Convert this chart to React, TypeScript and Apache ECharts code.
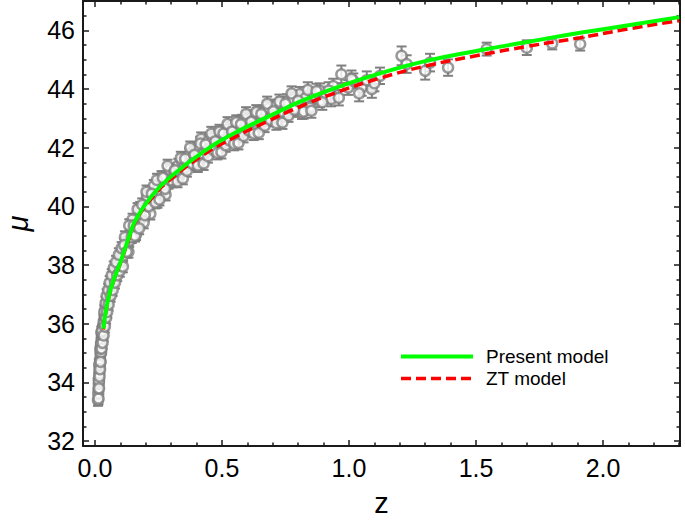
import React, { useEffect, useRef } from "react";
import * as echarts from "echarts";

// Observational data set A: z, mu, error
const obsZ: number[] = [
  0.012, 0.013, 0.014, 0.015, 0.015, 0.016, 0.017, 0.018, 0.019, 0.020,
  0.021, 0.022, 0.023, 0.024, 0.025, 0.026, 0.027, 0.028, 0.029, 0.030,
  0.031, 0.033, 0.035, 0.036, 0.038, 0.040, 0.041, 0.043, 0.045, 0.047,
  0.049, 0.051, 0.053, 0.055, 0.057, 0.059, 0.061, 0.063, 0.065, 0.067,
  0.069, 0.072, 0.075, 0.078, 0.081, 0.084, 0.087, 0.090, 0.093, 0.096,
  0.099, 0.103, 0.107, 0.111, 0.115, 0.119, 0.123, 0.127, 0.131, 0.135,
  0.140, 0.145, 0.150, 0.155, 0.160, 0.165, 0.170, 0.176, 0.182, 0.188,
  0.194, 0.200, 0.207, 0.214, 0.221, 0.228, 0.235, 0.242, 0.250, 0.258,
  0.266, 0.274, 0.282, 0.290, 0.298, 0.118, 0.132, 0.148, 0.162, 0.178,
  0.192, 0.205, 0.218, 0.232, 0.246, 0.262, 0.278, 0.295, 0.305, 0.312,
  0.320, 0.328, 0.335, 0.342, 0.350, 0.358, 0.365, 0.372, 0.380, 0.388,
  0.395, 0.402, 0.410, 0.418, 0.425, 0.432, 0.440, 0.448, 0.455, 0.462,
  0.470, 0.478, 0.486, 0.494, 0.502, 0.510, 0.518, 0.526, 0.535, 0.544,
  0.552, 0.560, 0.570, 0.580, 0.590, 0.600, 0.610, 0.620, 0.630, 0.640,
  0.650, 0.660, 0.672, 0.684, 0.696, 0.708, 0.720, 0.732, 0.744, 0.756,
  0.768, 0.780, 0.792, 0.807, 0.815, 0.830, 0.846, 0.860, 0.886, 0.886,
  0.910, 0.930, 0.938, 0.970, 0.997, 1.017, 1.050, 1.090, 1.122, 1.207,
  1.227, 1.300, 1.319, 1.390, 1.542, 1.700, 1.800, 1.910,
];
const obsMu: number[] = [
  33.40, 33.62, 33.78, 33.95, 34.12, 34.05, 34.30, 34.45, 34.60, 34.78,
  34.70, 34.98, 35.10, 35.02, 35.30, 35.40, 35.52, 35.48, 35.70, 35.62,
  35.85, 35.95, 36.10, 36.02, 36.30, 36.25, 36.45, 36.55, 36.50, 36.75,
  36.70, 36.92, 36.85, 37.05, 37.15, 37.02, 37.30, 37.22, 37.42, 37.38,
  37.55, 37.62, 37.50, 37.78, 37.85, 37.72, 37.98, 38.05, 37.95, 38.18,
  38.25, 38.15, 38.40, 38.32, 38.55, 38.48, 38.75, 38.62, 38.90, 38.82,
  39.05, 38.98, 39.22, 39.15, 39.40, 39.30, 39.58, 39.50, 39.75, 39.65,
  39.92, 39.82, 40.10, 40.00, 40.28, 40.18, 40.45, 40.32, 40.60, 40.48,
  40.75, 40.62, 40.90, 40.80, 41.05, 38.95, 38.45, 39.55, 39.05, 39.95,
  39.45, 40.35, 39.75, 40.70, 40.15, 41.00, 40.40, 41.25, 40.85, 41.20,
  41.05, 41.40, 41.15, 41.55, 41.30, 41.62, 41.45, 41.75, 41.50, 41.85,
  41.60, 41.95, 41.72, 42.30, 41.80, 42.10, 41.92, 42.25, 41.98, 42.35,
  42.05, 42.40, 42.12, 42.50, 42.20, 42.55, 42.30, 42.65, 42.38, 42.70,
  42.45, 42.85, 42.55, 42.90, 42.60, 42.98, 42.70, 43.05, 42.78, 43.15,
  42.85, 43.22, 42.95, 43.35, 43.05, 43.42, 43.15, 43.50, 43.20, 43.58,
  43.28, 43.65, 43.35, 43.83, 43.20, 43.70, 43.37, 43.78, 43.60, 43.94,
  43.75, 43.66, 44.10, 44.50, 44.05, 44.28, 44.05, 44.00, 44.45, 45.13,
  44.85, 44.62, 44.90, 44.73, 45.36, 45.41, 45.55, 45.53,
];
const obsErr: number[] = [
  0.20, 0.18, 0.20, 0.19, 0.20, 0.18, 0.20, 0.19, 0.20, 0.18,
  0.20, 0.19, 0.20, 0.18, 0.20, 0.19, 0.20, 0.18, 0.19, 0.20,
  0.18, 0.19, 0.20, 0.18, 0.19, 0.20, 0.18, 0.19, 0.20, 0.18,
  0.19, 0.20, 0.18, 0.19, 0.20, 0.18, 0.19, 0.20, 0.18, 0.19,
  0.20, 0.18, 0.19, 0.20, 0.18, 0.19, 0.20, 0.18, 0.19, 0.20,
  0.18, 0.18, 0.19, 0.20, 0.18, 0.19, 0.20, 0.18, 0.19, 0.20,
  0.18, 0.19, 0.20, 0.18, 0.19, 0.20, 0.18, 0.19, 0.20, 0.18,
  0.19, 0.20, 0.18, 0.19, 0.20, 0.18, 0.19, 0.20, 0.18, 0.19,
  0.20, 0.18, 0.19, 0.20, 0.18, 0.20, 0.20, 0.20, 0.20, 0.20,
  0.20, 0.20, 0.20, 0.20, 0.20, 0.20, 0.20, 0.20, 0.20, 0.20,
  0.20, 0.22, 0.20, 0.22, 0.20, 0.22, 0.20, 0.22, 0.20, 0.22,
  0.20, 0.22, 0.20, 0.22, 0.20, 0.22, 0.20, 0.22, 0.20, 0.22,
  0.20, 0.22, 0.20, 0.22, 0.20, 0.22, 0.20, 0.22, 0.20, 0.22,
  0.20, 0.24, 0.20, 0.22, 0.20, 0.22, 0.20, 0.22, 0.20, 0.22,
  0.20, 0.22, 0.20, 0.22, 0.20, 0.22, 0.20, 0.22, 0.20, 0.24,
  0.20, 0.24, 0.22, 0.24, 0.22, 0.24, 0.22, 0.24, 0.22, 0.25,
  0.24, 0.25, 0.25, 0.30, 0.25, 0.25, 0.28, 0.30, 0.28, 0.32,
  0.30, 0.30, 0.30, 0.28, 0.22, 0.25, 0.20, 0.22,
];

// Observational data set B (scattered part of the cloud): z, mu, error
const obs2Z: number[] = [
  0.014, 0.016, 0.017, 0.018, 0.020, 0.021, 0.022, 0.024, 0.025, 0.026,
  0.028, 0.030, 0.034, 0.037, 0.039, 0.042, 0.044, 0.046, 0.048, 0.052,
  0.054, 0.058, 0.062, 0.066, 0.070, 0.074, 0.079, 0.083, 0.088, 0.094,
  0.098, 0.105, 0.110, 0.115, 0.125, 0.135, 0.145, 0.153, 0.158, 0.168,
  0.174, 0.186, 0.196, 0.203, 0.211, 0.224, 0.238, 0.244, 0.254, 0.268,
  0.276, 0.286, 0.302, 0.315, 0.325, 0.338, 0.346, 0.355, 0.362, 0.375,
  0.384, 0.392, 0.405, 0.415, 0.428, 0.436, 0.445, 0.458, 0.466, 0.474,
  0.482, 0.490, 0.498, 0.506, 0.515, 0.522, 0.530, 0.540, 0.548, 0.556,
  0.565, 0.575, 0.585, 0.595, 0.605, 0.615, 0.625, 0.635, 0.645, 0.655,
  0.668, 0.678, 0.690, 0.702, 0.714, 0.726, 0.738, 0.750, 0.762, 0.774,
  0.786, 0.800, 0.822, 0.838, 0.852, 0.872, 0.895, 0.920, 0.960, 1.010,
  1.040, 1.070, 1.100,
];
const obs2Mu: number[] = [
  33.45, 33.80, 34.60, 34.20, 34.45, 35.15, 34.70, 35.30, 35.70, 35.15,
  35.75, 35.35, 35.60, 36.40, 35.90, 36.70, 36.20, 36.95, 36.40, 37.15,
  36.65, 37.40, 36.95, 37.65, 37.15, 37.90, 37.40, 38.10, 37.65, 38.35,
  37.80, 38.57, 37.95, 38.68, 38.45, 39.35, 38.95, 39.35, 39.00, 39.90,
  39.25, 40.05, 39.70, 40.50, 40.00, 40.43, 40.13, 40.90, 40.23, 40.97,
  40.60, 41.38, 40.89, 41.23, 40.85, 41.65, 40.95, 41.62, 41.21, 42.00,
  41.45, 41.76, 41.39, 42.14, 41.46, 42.11, 41.71, 42.48, 41.93, 42.22,
  41.82, 42.55, 41.85, 42.48, 42.08, 42.81, 42.25, 42.55, 42.13, 42.87,
  42.16, 42.80, 42.40, 43.15, 42.59, 42.88, 42.48, 43.22, 42.51, 43.15,
  42.75, 43.50, 42.95, 43.24, 42.83, 43.57, 42.86, 43.50, 43.10, 43.85,
  43.29, 43.60, 43.23, 43.97, 43.26, 43.93, 43.55, 43.95, 43.70, 44.35,
  43.85, 44.30, 44.20,
];
const obs2Err: number[] = [
  0.20, 0.22, 0.20, 0.21, 0.20, 0.22, 0.20, 0.21, 0.20, 0.22,
  0.20, 0.21, 0.20, 0.22, 0.20, 0.21, 0.20, 0.22, 0.20, 0.21,
  0.20, 0.22, 0.20, 0.21, 0.20, 0.22, 0.20, 0.21, 0.20, 0.22,
  0.20, 0.21, 0.20, 0.22, 0.20, 0.21, 0.20, 0.22, 0.20, 0.21,
  0.20, 0.22, 0.20, 0.21, 0.20, 0.22, 0.20, 0.21, 0.20, 0.22,
  0.20, 0.21, 0.20, 0.22, 0.20, 0.21, 0.20, 0.22, 0.20, 0.21,
  0.22, 0.24, 0.22, 0.23, 0.22, 0.24, 0.22, 0.23, 0.22, 0.24,
  0.22, 0.23, 0.22, 0.24, 0.22, 0.23, 0.22, 0.24, 0.22, 0.23,
  0.22, 0.24, 0.22, 0.23, 0.22, 0.24, 0.22, 0.23, 0.22, 0.24,
  0.22, 0.24, 0.22, 0.23, 0.22, 0.24, 0.22, 0.23, 0.22, 0.24,
  0.24, 0.25, 0.24, 0.26, 0.24, 0.25, 0.26, 0.28, 0.26, 0.28,
  0.27, 0.30, 0.28,
];

// Present model curve
const presentZ: number[] = [0.033, 0.05, 0.07, 0.098, 0.13, 0.164, 0.23, 0.295, 0.426, 0.55, 0.68, 0.807, 0.95, 1.122, 1.3, 1.516, 1.7, 1.91, 2.1, 2.3];
const presentMu: number[] = [35.83, 36.75, 37.4, 38.04, 38.85, 39.6, 40.42, 40.98, 41.86, 42.5, 43.05, 43.57, 44.05, 44.53, 44.95, 45.32, 45.6, 45.92, 46.17, 46.45];

// ZT model curve
const ztZ: number[] = [0.033, 0.05, 0.07, 0.098, 0.13, 0.164, 0.23, 0.295, 0.426, 0.55, 0.68, 0.807, 0.95, 1.122, 1.3, 1.516, 1.7, 1.91, 2.1, 2.3];
const ztMu: number[] = [35.8, 36.72, 37.36, 38.0, 38.8, 39.55, 40.35, 40.9, 41.75, 42.36, 42.9, 43.4, 43.88, 44.37, 44.78, 45.16, 45.45, 45.75, 46.05, 46.33];

const xTickLabels = ["0.0", "0.5", "1.0", "1.5", "2.0"];

const FONT = "'Liberation Sans', Arial, Helvetica, sans-serif";
const AX = "#1a1a1a";
const GRAY = "#808080";

export default function App() {
  const ref = useRef<HTMLDivElement>(null);
  useEffect(() => {
    if (!ref.current) return;
    const chart = echarts.init(ref.current, undefined, { renderer: "svg" });
    const obs = obsZ
      .map((z, i) => [z, obsMu[i], obsErr[i]])
      .concat(obs2Z.map((z, i) => [z, obs2Mu[i], obs2Err[i]]));
    const present = presentZ.map((z, i) => [z, presentMu[i]]);
    const zt = ztZ.map((z, i) => [z, ztMu[i]]);

    const baseX = {
      type: "value",
      min: -0.047,
      max: 2.303,
      splitNumber: 5,
      splitLine: { show: false },
      axisLine: { show: true, onZero: false, lineStyle: { color: AX, width: 2 } },
      axisTick: { show: true, inside: true, length: 6, lineStyle: { color: AX, width: 1.5 } },
      minorTick: { show: true, splitNumber: 5, length: 3.5, lineStyle: { color: AX, width: 1.5 } },
    };
    const baseY = {
      type: "value",
      min: 31.83,
      max: 47.0,
      splitNumber: 7,
      splitLine: { show: false },
      axisLine: { show: true, onZero: false, lineStyle: { color: AX, width: 2 } },
      axisTick: { show: true, inside: true, length: 6, lineStyle: { color: AX, width: 1.5 } },
      minorTick: { show: true, splitNumber: 4, length: 3.5, lineStyle: { color: AX, width: 1.5 } },
    };

    chart.setOption({
      animation: false,
      backgroundColor: "#ffffff",
      grid: { left: 83, right: 5, top: 1, bottom: 74, containLabel: false, outerBoundsMode: "none" },
      legend: {
        orient: "vertical",
        left: 399,
        top: 347,
        padding: 0,
        itemWidth: 72,
        itemHeight: 20,
        itemGap: 3,
        itemStyle: { opacity: 0 },
        textStyle: { fontFamily: FONT, fontSize: 19, color: "#000", padding: [0, 0, 0, 8] },
        data: [
          { name: "Present model", lineStyle: { width: 4 } },
          { name: "ZT model", lineStyle: { width: 3.5 } },
        ],
      },
      xAxis: [
        {
          ...baseX,
          position: "bottom",
          name: "z",
          nameLocation: "middle",
          nameGap: 42,
          nameTextStyle: { fontFamily: FONT, fontSize: 29, lineHeight: 30, color: "#000" },
          axisLabel: {
            showMinLabel: false,
            showMaxLabel: false,
            margin: 9,
            fontFamily: FONT,
            fontSize: 25,
            color: "#000",
            formatter: (v: number) => {
              const s = v.toFixed(1);
              return xTickLabels.includes(s) ? s : "";
            },
          },
        },
        { ...baseX, position: "top", axisLabel: { show: false } },
      ],
      yAxis: [
        {
          ...baseY,
          position: "left",
          name: "μ",
          nameLocation: "middle",
          nameGap: 50,
          nameRotate: 90,
          nameTextStyle: { fontFamily: FONT, fontSize: 29, lineHeight: 30, fontStyle: "italic", color: "#000" },
          axisLabel: {
            showMinLabel: false,
            showMaxLabel: false,
            margin: 8,
            fontFamily: FONT,
            fontSize: 25,
            color: "#000",
            formatter: (v: number) => (Math.abs(v - Math.round(v)) < 1e-6 ? String(Math.round(v)) : ""),
          },
        },
        { ...baseY, position: "right", axisLabel: { show: false } },
      ],
      series: [
        {
          type: "custom",
          name: "errors",
          xAxisIndex: 0,
          yAxisIndex: 0,
          data: obs,
          z: 1,
          renderItem: (params: any, api: any) => {
            const x = api.value(0);
            const y = api.value(1);
            const e = api.value(2);
            const hi = api.coord([x, y + e]);
            const lo = api.coord([x, y - e]);
            const hw = 5;
            const st = { stroke: GRAY, lineWidth: 2 };
            return {
              type: "group",
              children: [
                { type: "line", shape: { x1: hi[0], y1: hi[1], x2: lo[0], y2: lo[1] }, style: st },
                { type: "line", shape: { x1: hi[0] - hw, y1: hi[1], x2: hi[0] + hw, y2: hi[1] }, style: st },
                { type: "line", shape: { x1: lo[0] - hw, y1: lo[1], x2: lo[0] + hw, y2: lo[1] }, style: st },
              ],
            };
          },
        },
        {
          type: "scatter",
          name: "data",
          xAxisIndex: 0,
          yAxisIndex: 0,
          data: obs.map((d) => [d[0], d[1]]),
          symbol: "circle",
          symbolSize: 10,
          z: 2,
          itemStyle: { color: "#ffffff", borderColor: GRAY, borderWidth: 2.5 },
        },
        {
          type: "line",
          name: "ZT model",
          xAxisIndex: 0,
          yAxisIndex: 0,
          data: zt,
          smooth: true,
          symbol: "none",
          z: 3,
          itemStyle: { color: "#ff0000" },
          lineStyle: { color: "#ff0000", width: 3.5, type: [10, 5] },
        },
        {
          type: "line",
          name: "Present model",
          xAxisIndex: 0,
          yAxisIndex: 0,
          data: present,
          smooth: true,
          symbol: "none",
          z: 4,
          itemStyle: { color: "#00ff00" },
          lineStyle: { color: "#00ff00", width: 4 },
        },
      ],
    });
    return () => chart.dispose();
  }, []);
  return <div ref={ref} style={{ position: "fixed", left: 0, top: 0, width: 685, height: 520 }} />;
}
